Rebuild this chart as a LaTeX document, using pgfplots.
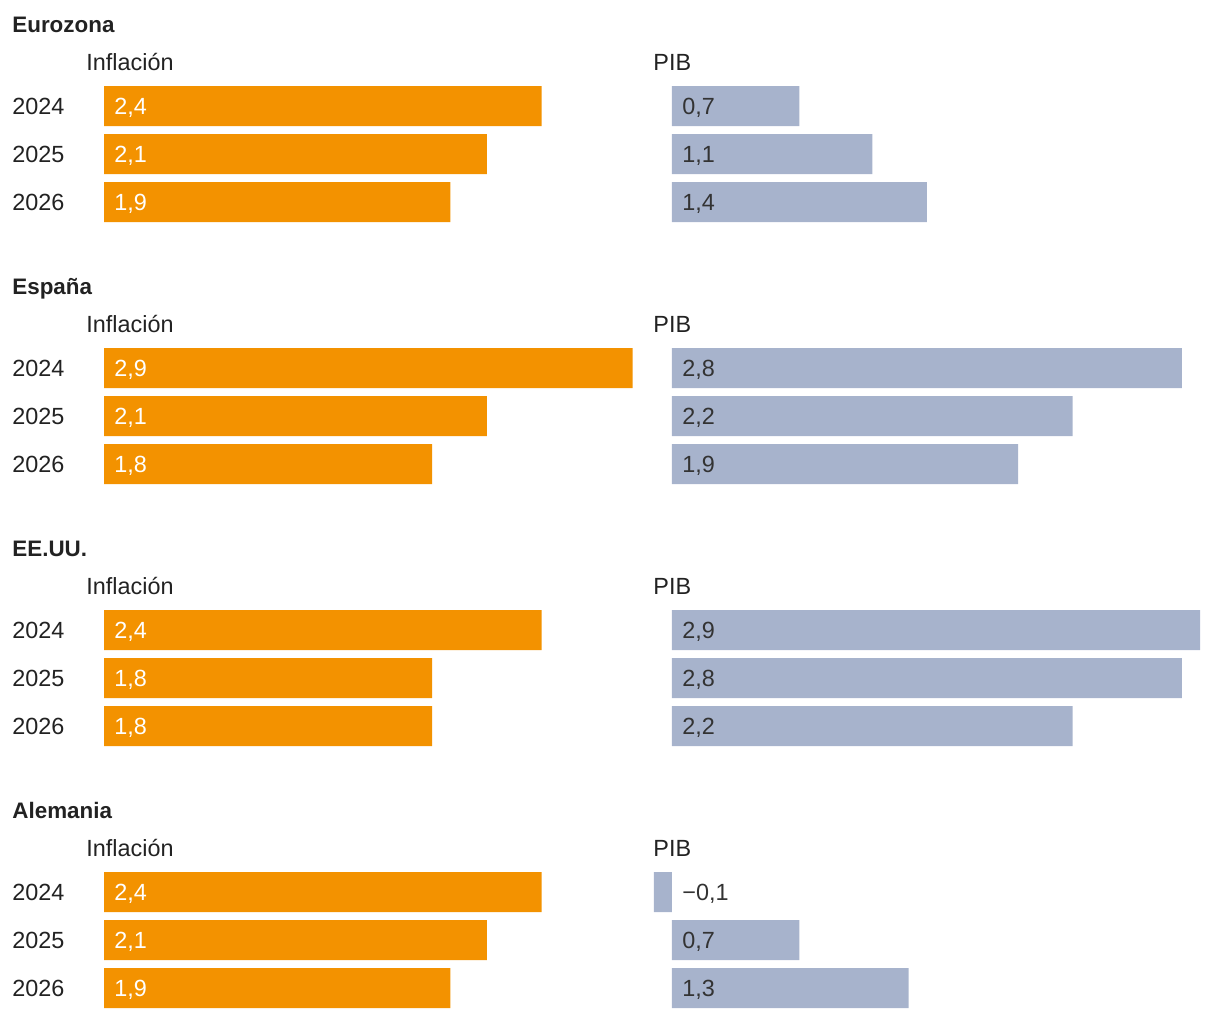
\documentclass[border=0pt]{standalone}
\usepackage{pgfplots}
\pgfplotsset{compat=1.18}
\usepackage{pgfplotstable}
\usepackage{fontspec}
\setmainfont{Liberation Sans}
\definecolor{infc}{HTML}{F39200}
\definecolor{pibc}{HTML}{A7B3CC}
\definecolor{txt}{HTML}{222222}
\definecolor{lbl}{HTML}{333333}

\pgfplotstableread[row sep=\\]{
r inf pib infl pibl\\
0 2.4 0.7 2,4 0,7\\
1 2.1 1.1 2,1 1,1\\
2 1.9 1.4 1,9 1,4\\
}\eurozona
\pgfplotstableread[row sep=\\]{
r inf pib infl pibl\\
0 2.9 2.8 2,9 2,8\\
1 2.1 2.2 2,1 2,2\\
2 1.8 1.9 1,8 1,9\\
}\espana
\pgfplotstableread[row sep=\\]{
r inf pib infl pibl\\
0 2.4 2.9 2,4 2,9\\
1 1.8 2.8 1,8 2,8\\
2 1.8 2.2 1,8 2,2\\
}\eeuu
\pgfplotstableread[row sep=\\]{
r inf pib infl pibl\\
0 2.4 -0.1 2,4 −0,1\\
1 2.1 0.7 2,1 0,7\\
2 1.9 1.3 1,9 1,3\\
}\alemania

\newcommand{\fs}{\fontsize{11.7pt}{14pt}\selectfont}
\newcommand{\fb}{\fontsize{11.2pt}{14pt}\selectfont\bfseries}

\pgfplotsset{
  panel/.style={scale only axis, height=72pt, ymin=-0.5, ymax=2.5, y dir=reverse,
    axis line style={draw=none}, xtick=\empty, major tick length=0pt, clip=false,
    anchor=north west},
}

\newcommand{\group}[3]{%
  \node[anchor=base west, font=\fb, text=txt, inner sep=0pt] at (6pt,{-16pt-131pt*#1}) {#2};
  \node[anchor=base west, font=\fs, text=txt, inner sep=0pt] at (43pt,{-35.25pt-131pt*#1}) {Inflación};
  \node[anchor=base west, font=\fs, text=txt, inner sep=0pt] at (326.5pt,{-35.25pt-131pt*#1}) {PIB};
  \begin{axis}[panel, at={(52pt,{-41pt-131pt*#1})}, width=264.35pt, xmin=0, xmax=2.9,
      ytick={0,1,2}, yticklabels={2024,2025,2026},
      yticklabel style={anchor=west, inner sep=0pt, xshift=-46pt, font=\fs, text=txt}]
    \addplot[xbar, bar shift=0pt, bar width=20pt, fill=infc, draw=none] table[x=inf, y=r] {#3};
    \addplot[draw=none, mark=none, nodes near coords, point meta=explicit symbolic,
      every node near coord/.style={anchor=west, inner sep=0pt, xshift=5pt, yshift=-1pt, font=\fs, text=white}]
      table[x expr=0, y=r, meta=infl] {#3};
  \end{axis}
  \begin{axis}[panel, at={(317.77pt,{-41pt-131pt*#1})}, width=282.3pt, xmin=-0.2, xmax=2.9,
      ytick=\empty]
    \addplot[xbar, bar shift=0pt, bar width=20pt, fill=pibc, draw=none] table[x=pib, y=r] {#3};
    \addplot[draw=none, mark=none, nodes near coords, point meta=explicit symbolic,
      every node near coord/.style={anchor=west, inner sep=0pt, xshift=5pt, yshift=-1pt, font=\fs, text=lbl}]
      table[x expr=0, y=r, meta=pibl] {#3};
  \end{axis}
}

\begin{document}
\begin{tikzpicture}
  \useasboundingbox (0,0) rectangle (610pt,-509pt);
  \group{0}{Eurozona}{\eurozona}
  \group{1}{España}{\espana}
  \group{2}{EE.UU.}{\eeuu}
  \group{3}{Alemania}{\alemania}
\end{tikzpicture}
\end{document}
